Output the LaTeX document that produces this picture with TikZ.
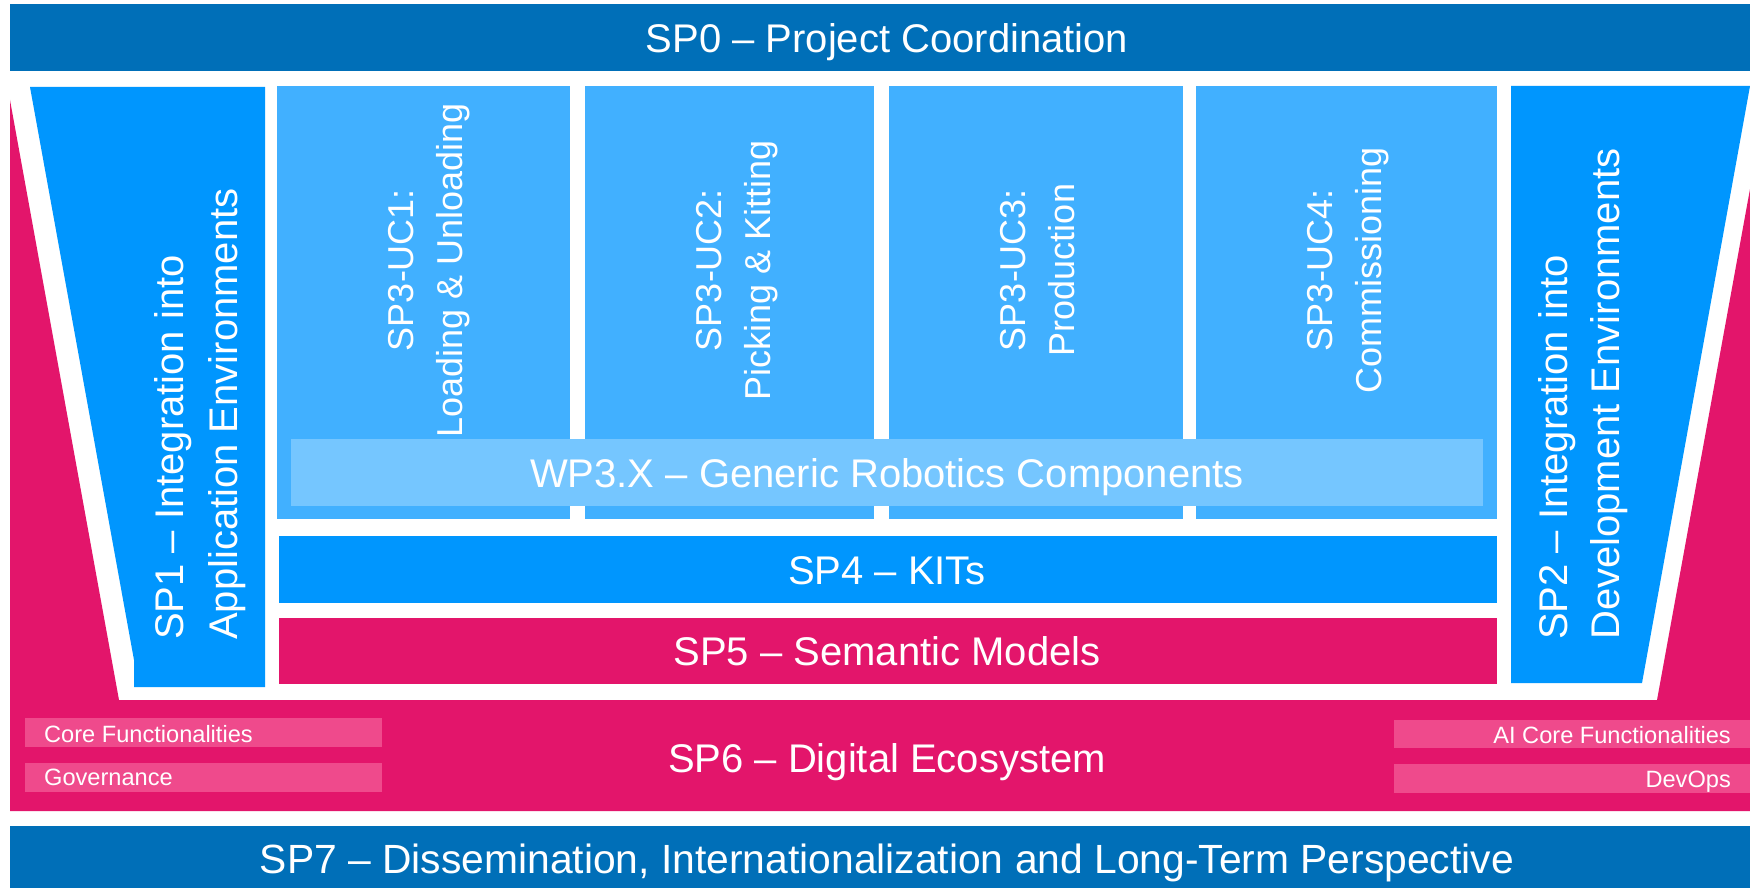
\documentclass[tikz,border=0pt]{standalone}
\usepackage{fontspec}
\setmainfont{Liberation Sans}
\definecolor{dkblue}{HTML}{006FB8}
\definecolor{mdblue}{HTML}{0096FE}
\definecolor{ltblue}{HTML}{41B0FF}
\definecolor{paleblue}{HTML}{75C6FF}
\definecolor{mag}{HTML}{E3156B}
\definecolor{pinkbox}{HTML}{EF4A8C}
\tikzset{
  lbl/.style={text=white, inner sep=0pt, anchor=base, font=\fontsize{40}{48}\selectfont},
  uclbl/.style={text=white, inner sep=0pt, anchor=base, rotate=90, font=\fontsize{36}{44}\selectfont},
  sidelbl/.style={text=white, inner sep=0pt, anchor=base west, rotate=90, font=\fontsize{40}{48}\selectfont},
  smalllbl/.style={text=white, inner sep=0pt, font=\fontsize{23.6}{28}\selectfont},
}
\begin{document}
\begin{tikzpicture}[x=1pt,y=-1pt]
\useasboundingbox (0,0) rectangle (1750,888);
\fill[white] (0,0) rectangle (1750,888);
% SP0
\fill[dkblue] (10,4) rectangle (1750,71);
\node[lbl] (sp0) at (887,53) {SP0 – Project Coordination};
% SP6 background
\fill[mag] (10,100) -- (119,700) -- (1657,700) -- (1750,189) -- (1750,811) -- (10,811) -- cycle;
\node[lbl] (sp6) at (887,772) {SP6 – Digital Ecosystem};
\fill[pinkbox] (25,718) rectangle (382,747);
\fill[pinkbox] (25,763) rectangle (382,792);
\fill[pinkbox] (1394,720) rectangle (1750,748);
\fill[pinkbox] (1394,764) rectangle (1750,793);
\node[smalllbl, anchor=base west] (core) at (44,742) {Core Functionalities};
\node[smalllbl, anchor=base west] (gov) at (44,785) {Governance};
\node[smalllbl, anchor=base east] (aicore) at (1731,743) {AI Core Functionalities};
\node[smalllbl, anchor=base east] (devops) at (1731,787) {DevOps};
% SP7
\fill[dkblue] (10,826) rectangle (1750,888);
\node[lbl, font=\fontsize{40.8}{48}\selectfont] (sp7) at (887,873) {SP7 – Dissemination, Internationalization and Long-Term Perspective};
% SP1
\fill[mdblue] (30,87) -- (265,87) -- (265,687) -- (134,687) -- (134,660) -- cycle;
\node[sidelbl] (sp1a) at (183,640) {SP1 – Integration into};
\node[sidelbl] (sp1b) at (237,640) {Application Environments};
% SP2
\fill[mdblue] (1511,86) -- (1750,86) -- (1642,683) -- (1511,683) -- cycle;
\node[sidelbl] (sp2a) at (1567,640) {SP2 – Integration into};
\node[sidelbl] (sp2b) at (1619,640) {Development Environments};
% SP3 use cases
\fill[ltblue] (277,86) rectangle (570,519);
\fill[ltblue] (585,86) rectangle (874,519);
\fill[ltblue] (889,86) rectangle (1183,519);
\fill[ltblue] (1196,86) rectangle (1497,519);
\node[uclbl] (uc1a) at (413,270) {SP3-UC1:};
\node[uclbl] (uc1b) at (462,270) {Loading \& Unloading};
\node[uclbl] (uc2a) at (721,270) {SP3-UC2:};
\node[uclbl] (uc2b) at (770,270) {Picking \& Kitting};
\node[uclbl] (uc3a) at (1025,270) {SP3-UC3:};
\node[uclbl] (uc3b) at (1074,270) {Production};
\node[uclbl] (uc4a) at (1332,270) {SP3-UC4:};
\node[uclbl] (uc4b) at (1381,270) {Commissioning};
% WP3.X
\fill[paleblue] (291,439) rectangle (1483,506);
\node[lbl] (wp3x) at (887,487) {WP3.X – Generic Robotics Components};
% SP4
\fill[mdblue] (279,536) rectangle (1497,603);
\node[lbl] (sp4) at (887,584) {SP4 – KITs};
% SP5
\fill[mag] (279,618) rectangle (1497,684);
\node[lbl] (sp5) at (887,665) {SP5 – Semantic Models};
\end{tikzpicture}
\end{document}
